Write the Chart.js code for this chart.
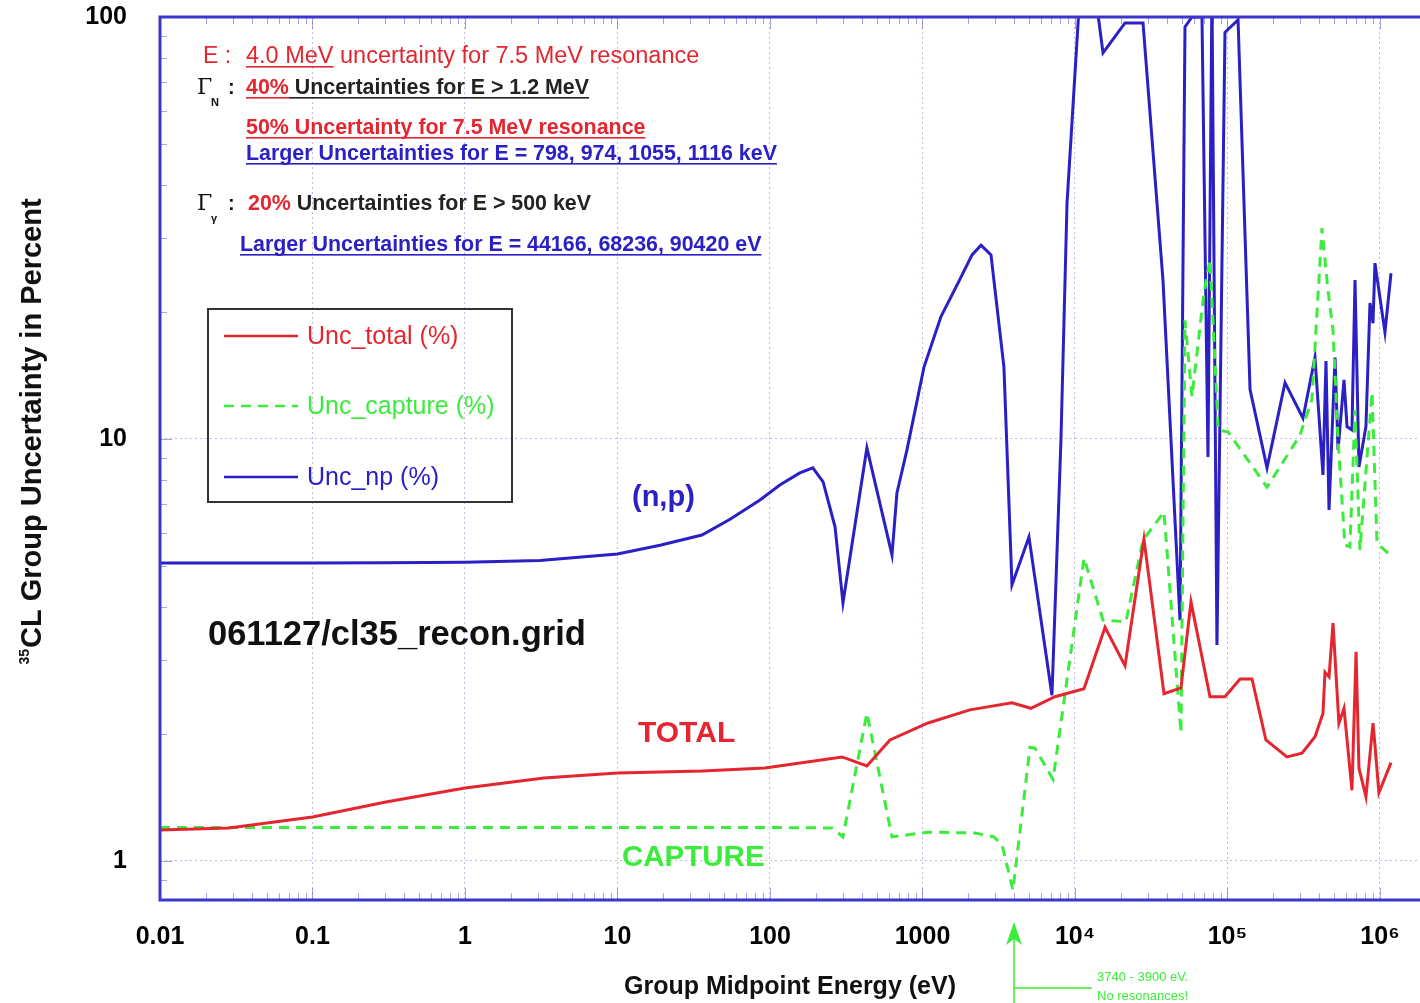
<!DOCTYPE html>
<html>
<head>
<meta charset="utf-8">
<script src="https://cdn.jsdelivr.net/npm/chart.js@4.4.0/dist/chart.umd.min.js"></script>
<style>
  html, body { margin: 0; padding: 0; background: #fff; overflow: hidden; }
  #wrap { width: 1420px; height: 1003px; position: relative; }
</style>
</head>
<body>
<div id="wrap"><canvas id="chart"></canvas></div>
<script>
// group midpoint energies (eV) and uncertainties (%)
const energyTotal = [0.01, 0.0283, 0.1, 0.303, 1, 3.3, 10, 35.8, 92.7, 297, 432, 612, 1087, 2046, 3862,
  5140, 7390, 11460, 15740, 21290, 28330, 38350, 49550, 57640, 76800, 96300, 120800, 144800, 178700,
  245300, 308000, 375000, 423000, 435800, 463400, 492000, 538000, 581000, 655000, 697000, 728000,
  809000, 900000, 927000, 984000, 1181000];
const uncTotal = [1.184, 1.197, 1.271, 1.38, 1.489, 1.573, 1.616, 1.633, 1.66, 1.764, 1.679, 1.935, 2.123,
  2.28, 2.37, 2.30, 2.45, 2.56, 3.58, 2.90, 5.79, 2.49, 2.57, 4.11, 2.45, 2.45, 2.70, 2.70, 1.935,
  1.764, 1.80, 1.97, 2.24, 2.80, 2.73, 3.66, 2.12, 2.30, 1.47, 3.13, 1.66, 1.42, 2.12, 1.88, 1.45, 1.71];

const energyCapture = [0.01, 1, 100, 255, 301, 432, 631, 1087, 2208, 2944, 3330, 3920, 5070, 5470, 7180,
  11460, 15270, 21580, 27930, 38350, 49550, 52640, 58500, 70100, 76800, 87000, 100700, 181700,
  298600, 357900, 416500, 456000, 492000, 531000, 589000, 635000, 686000, 739000, 887000, 956000, 1164000];
const uncCapture = [1.2, 1.2, 1.2, 1.197, 1.14, 2.24, 1.14, 1.17, 1.165, 1.14, 1.09, 0.853, 1.86, 1.85, 1.56,
  5.22, 3.72, 3.69, 5.76, 6.71, 2.01, 19.1, 12.6, 22.2, 26.6, 10.5, 10.4, 7.69,
  10.2, 12.4, 31.6, 22.5, 18.1, 9.95, 5.61, 5.55, 11.7, 5.46, 12.9, 5.67, 5.31];

const energyNp = [0.01, 0.03, 0.1, 0.3, 1, 3.1, 10, 19, 35.8, 54.7, 86, 116, 157, 191, 223, 267, 301, 432,
  631, 680, 791, 1023, 1322, 1709, 2113, 2421, 2813, 3421, 3862, 4990, 7063, 8091, 8866, 10790, 13530,
  15270, 21290, 27930, 37760, 48840, 52640, 58500, 68050, 74500, 79100, 85300, 96300, 117300, 140600,
  181700, 238400, 312700, 374700, 422800, 442600, 463400, 507400, 531000, 581000, 608000, 655000,
  686000, 728000, 809000, 860000, 900000, 927000, 1078000, 1181000];
const uncNp = [5.08, 5.08, 5.08, 5.09, 5.1, 5.15, 5.34, 5.6, 5.92, 6.45, 7.17, 7.78, 8.31, 8.54, 7.91, 6.19,
  4.09, 9.52, 5.31, 7.45, 9.42, 14.8, 19.5, 23.4, 27.3, 28.8, 27.3, 14.8, 4.51, 5.86, 2.47, 9.95, 36.2,
  115, 115, 82.2, 96.8, 96.8, 23.8, 3.72, 94.7, 100, 100, 9.06, 115, 3.25, 92, 98.4, 13.1,
  8.54, 13.6, 11.2, 15.6, 8.22, 15.3, 6.79, 15.6, 9.42, 13.8, 10.7, 10.5,
  23.8, 8.58, 10.7, 21.0, 18.8, 26.1, 17.9, 24.7];

const xTickLabels = ["0.01", "0.1", "1", "10", "100", "1000", "10\u2074", "10\u2075", "10\u2076"];
const yTickLabels = ["1", "10", "100"];

const RED = "#e3262f";
const GREEN = "#3cec3c";
const BLUE = "#2b20c4";
const FRAME = "#3a36cf";
const GRID = "rgba(120,120,205,0.5)";
const TICK = "rgba(90,90,200,0.55)";

const isDecade = (v) => Math.abs(Math.log10(v) - Math.round(Math.log10(v))) < 1e-6;
const toPoints = (xs, ys) => xs.map((x, i) => ({ x, y: ys[i] }));
const F = (w, s, fam = "Liberation Sans") => `${w} ${s}px "${fam}"`;

function drawRuns(ctx, x, y, runs) {
  let cx = x;
  runs.forEach((r) => {
    ctx.font = r.font;
    ctx.fillStyle = r.color;
    ctx.fillText(r.text, cx, y);
    const w = ctx.measureText(r.text).width;
    if (r.underline) ctx.fillRect(cx, y + 3, w, 1.6);
    cx += w;
  });
}

function gamma(ctx, x, y, sub) {
  ctx.fillStyle = "#111";
  ctx.font = F("normal", 22, "DejaVu Serif");
  ctx.fillText("\u0393", x, y);
  ctx.font = F("bold", 11);
  ctx.fillText(sub, x + 14, y + 12);
  ctx.font = F("bold", 20);
  ctx.fillText(":", x + 31, y);
}

const minorTicks = {
  id: "minorTicks",
  beforeDatasetsDraw(chart) {
    const { ctx, chartArea: a, scales: { x, y } } = chart;
    ctx.save();
    ctx.strokeStyle = TICK;
    ctx.lineWidth = 1;
    ctx.beginPath();
    for (let e = -2; e <= 6; e++) {
      for (let k = 1; k <= 9; k++) {
        const v = k * Math.pow(10, e);
        if (v < x.min || v > x.max) continue;
        const px = Math.round(x.getPixelForValue(v)) + 0.5;
        const len = k === 1 ? 12 : 7;
        ctx.moveTo(px, a.bottom); ctx.lineTo(px, a.bottom - len);
        ctx.moveTo(px, a.top); ctx.lineTo(px, a.top + len);
      }
    }
    for (let e = -1; e <= 2; e++) {
      for (let k = 1; k <= 9; k++) {
        const v = k * Math.pow(10, e);
        if (v < y.min || v > y.max) continue;
        const py = Math.round(y.getPixelForValue(v)) + 0.5;
        const len = k === 1 ? 12 : 7;
        ctx.moveTo(a.left, py); ctx.lineTo(a.left + len, py);
      }
    }
    ctx.stroke();
    ctx.restore();
  },
};

const annotations = {
  id: "annotations",
  afterDraw(chart) {
    const { ctx, chartArea: a } = chart;
    ctx.save();

    // frame (right edge falls off the page)
    ctx.strokeStyle = FRAME;
    ctx.lineWidth = 3;
    ctx.beginPath();
    ctx.moveTo(a.right + 2, a.top);
    ctx.lineTo(a.left, a.top);
    ctx.lineTo(a.left, a.bottom);
    ctx.lineTo(a.right + 2, a.bottom);
    ctx.stroke();

    ctx.textBaseline = "alphabetic";
    ctx.textAlign = "left";

    // notes at top left
    drawRuns(ctx, 203, 63, [{ text: "E :", color: RED, font: F("normal", 23) }]);
    drawRuns(ctx, 246, 63, [
      { text: "4.0 MeV", color: RED, font: F("normal", 23.5), underline: true },
      { text: " uncertainty for 7.5 MeV resonance", color: RED, font: F("normal", 23.5) },
    ]);
    gamma(ctx, 197, 94, "N");
    drawRuns(ctx, 246, 94, [
      { text: "40%", color: RED, font: F("bold", 21.4), underline: true },
      { text: " Uncertainties for E > 1.2 MeV", color: "#222", font: F("bold", 21.4), underline: true },
    ]);
    drawRuns(ctx, 246, 134, [
      { text: "50% Uncertainty for 7.5 MeV resonance", color: RED, font: F("bold", 21.4), underline: true },
    ]);
    drawRuns(ctx, 246, 160, [
      { text: "Larger Uncertainties for E = 798, 974, 1055, 1116 keV", color: BLUE, font: F("bold", 21.4), underline: true },
    ]);
    gamma(ctx, 197, 210, "\u03b3");
    drawRuns(ctx, 248, 210, [
      { text: "20%", color: RED, font: F("bold", 21.4) },
      { text: " Uncertainties for E > 500 keV", color: "#222", font: F("bold", 21.4) },
    ]);
    drawRuns(ctx, 240, 251, [
      { text: "Larger Uncertainties for E = 44166, 68236, 90420 eV", color: BLUE, font: F("bold", 21.4), underline: true },
    ]);

    // legend box
    ctx.strokeStyle = "#333";
    ctx.lineWidth = 2;
    ctx.strokeRect(208, 309, 304, 193);
    const rows = [336, 406, 477];
    ctx.textBaseline = "middle";
    chart.data.datasets.forEach((ds, i) => {
      ctx.strokeStyle = ds.borderColor;
      ctx.lineWidth = 2.5;
      ctx.setLineDash(ds.borderDash || []);
      ctx.beginPath();
      ctx.moveTo(224, rows[i]);
      ctx.lineTo(298, rows[i]);
      ctx.stroke();
      ctx.setLineDash([]);
      ctx.fillStyle = ds.borderColor;
      ctx.font = F("normal", 25);
      ctx.fillText(ds.label, 307, rows[i] + 1);
    });

    // curve labels
    ctx.font = F("bold", 29);
    ctx.fillStyle = BLUE;
    ctx.fillText("(n,p)", 632, 498);
    ctx.font = F("bold", 34.5);
    ctx.fillStyle = "#111";
    ctx.fillText("061127/cl35_recon.grid", 208, 635);
    ctx.font = F("bold", 30);
    ctx.fillStyle = RED;
    ctx.fillText("TOTAL", 638, 734);
    ctx.font = F("bold", 29.5);
    ctx.fillStyle = GREEN;
    ctx.fillText("CAPTURE", 622, 858);

    // y axis title with superscript
    ctx.save();
    ctx.translate(33, 432);
    ctx.rotate(-Math.PI / 2);
    ctx.fillStyle = "#111";
    const main = "CL Group Uncertainty in Percent";
    ctx.font = F("bold", 14);
    const supW = ctx.measureText("35").width;
    ctx.font = F("bold", 29);
    const mainW = ctx.measureText(main).width;
    const x0 = -(supW + mainW) / 2;
    ctx.textAlign = "left";
    ctx.font = F("bold", 14);
    ctx.fillText("35", x0, -8);
    ctx.font = F("bold", 29);
    ctx.fillText(main, x0 + supW + 1, 0);
    ctx.restore();

    // resonance-free window marker
    ctx.strokeStyle = GREEN;
    ctx.fillStyle = GREEN;
    ctx.lineWidth = 1.5;
    ctx.beginPath();
    ctx.moveTo(1014, 936);
    ctx.lineTo(1014, 1003);
    ctx.moveTo(1014, 988);
    ctx.lineTo(1092, 988);
    ctx.stroke();
    ctx.beginPath();
    ctx.moveTo(1014, 922);
    ctx.lineTo(1006, 945);
    ctx.lineTo(1014, 939);
    ctx.lineTo(1022, 945);
    ctx.closePath();
    ctx.fill();
    ctx.font = F("normal", 13);
    ctx.textBaseline = "middle";
    ctx.fillText("3740 - 3900 eV.", 1097, 977);
    ctx.fillText("No resonances!", 1097, 996);

    ctx.restore();
  },
};

new Chart(document.getElementById("chart"), {
  type: "line",
  data: {
    datasets: [
      { label: "Unc_total (%)", data: toPoints(energyTotal, uncTotal), borderColor: RED, borderWidth: 3, order: 1 },
      { label: "Unc_capture (%)", data: toPoints(energyCapture, uncCapture), borderColor: GREEN, borderWidth: 3, borderDash: [10, 7], order: 2 },
      { label: "Unc_np (%)", data: toPoints(energyNp, uncNp), borderColor: BLUE, borderWidth: 3, order: 3 },
    ],
  },
  options: {
    responsive: true,
    maintainAspectRatio: false,
    animation: false,
    elements: { point: { radius: 0 }, line: { tension: 0 } },
    layout: { padding: { top: 17, right: 0, left: 0, bottom: 0 } },
    plugins: { legend: { display: false }, tooltip: { enabled: false } },
    scales: {
      x: {
        type: "logarithmic",
        min: 0.01,
        max: 1.83e6,
        afterFit: (scale) => {
          scale.height = 103;
          scale.paddingLeft = 0;
          scale.paddingRight = 0;
        },
        grid: {
          drawTicks: false,
          color: (c) => (c.tick && isDecade(c.tick.value) ? GRID : "transparent"),
        },
        border: { display: false, dash: [2, 3] },
        ticks: {
          autoSkip: false,
          maxRotation: 0,
          padding: 22,
          color: "#000",
          font: { family: "Liberation Sans", weight: "bold", size: 25 },
          callback: (v) => (isDecade(v) ? xTickLabels[Math.round(Math.log10(v)) + 2] : ""),
        },
        title: {
          display: true,
          text: "Group Midpoint Energy (eV)",
          color: "#111",
          font: { family: "Liberation Sans", weight: "bold", size: 25 },
          padding: { top: 0, bottom: 1 },
        },
      },
      y: {
        type: "logarithmic",
        min: 0.808,
        max: 100,
        afterFit: (scale) => {
          scale.width = 160;
          scale.paddingTop = 0;
          scale.paddingBottom = 0;
        },
        grid: {
          drawTicks: false,
          color: (c) => (c.tick && isDecade(c.tick.value) ? GRID : "transparent"),
        },
        border: { display: false, dash: [2, 3] },
        ticks: {
          autoSkip: false,
          padding: 33,
          color: "#000",
          font: { family: "Liberation Sans", weight: "bold", size: 25 },
          callback: (v) => (isDecade(v) ? yTickLabels[Math.round(Math.log10(v))] : ""),
        },
      },
    },
  },
  plugins: [minorTicks, annotations],
});
</script>
</body>
</html>
